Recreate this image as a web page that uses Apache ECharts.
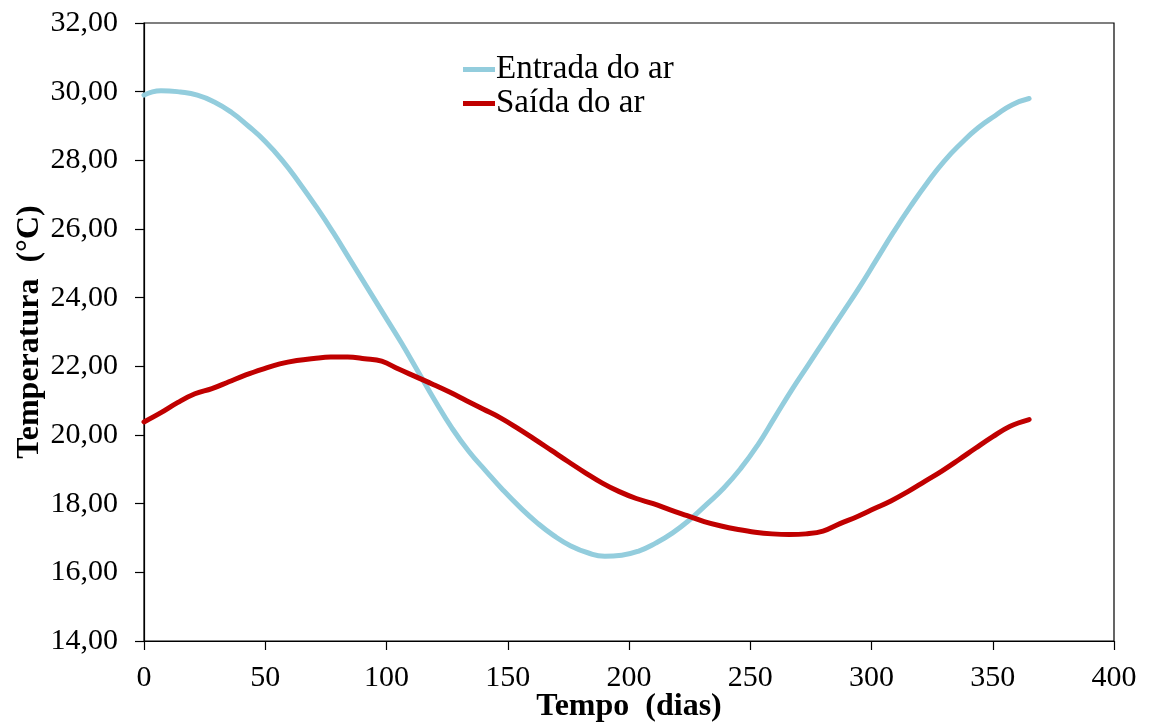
<!DOCTYPE html>
<html>
<head>
<meta charset="utf-8">
<script src="https://cdn.jsdelivr.net/npm/echarts@6/dist/echarts.min.js"></script>
<style>
  html, body { margin: 0; padding: 0; background: #fff; }
  #chart { width: 1149px; height: 722px; }
</style>
</head>
<body>
<div id="chart"></div>
<script>
// Air temperature at the inlet and outlet over one year
const entradaDias = [0, 7, 15, 22, 29, 36, 43, 50, 57, 64, 71, 78, 85, 92, 99, 106, 113, 120, 127, 134, 141, 148, 155, 162, 169, 176, 183, 190, 197, 204, 211, 218, 225, 232, 239, 246, 253, 260, 267, 274, 281, 288, 295, 302, 309, 316, 323, 330, 337, 344, 351, 358, 365];
const entradaTemp = [29.9, 30.03, 29.99, 29.9, 29.7, 29.4, 29.0, 28.55, 28.0, 27.35, 26.65, 25.9, 25.1, 24.3, 23.5, 22.7, 21.85, 21.0, 20.2, 19.52, 18.95, 18.4, 17.9, 17.45, 17.07, 16.77, 16.57, 16.47, 16.5, 16.62, 16.85, 17.15, 17.53, 17.98, 18.45, 19.02, 19.7, 20.5, 21.3, 22.05, 22.8, 23.55, 24.3, 25.1, 25.9, 26.65, 27.35, 27.98, 28.5, 28.95, 29.3, 29.62, 29.8];

const saidaDias = [0, 7, 14, 21, 28, 35, 42, 49, 56, 63, 70, 77, 84, 91, 98, 105, 112, 119, 126, 133, 140, 147, 154, 161, 168, 175, 182, 189, 196, 203, 210, 217, 224, 231, 238, 245, 252, 259, 266, 273, 280, 287, 294, 301, 308, 315, 322, 329, 336, 343, 350, 357, 365];
const saidaTemp = [20.38, 20.65, 20.95, 21.2, 21.35, 21.55, 21.75, 21.92, 22.07, 22.17, 22.23, 22.27, 22.27, 22.22, 22.15, 21.92, 21.7, 21.48, 21.25, 21.0, 20.75, 20.5, 20.2, 19.88, 19.55, 19.22, 18.9, 18.6, 18.35, 18.15, 18.0, 17.82, 17.65, 17.48, 17.35, 17.25, 17.17, 17.12, 17.1, 17.12, 17.2, 17.42, 17.62, 17.85, 18.08, 18.35, 18.65, 18.95, 19.28, 19.62, 19.95, 20.25, 20.45];

const seriesNames = ['Entrada do ar', 'Saída do ar'];
const xTitle = 'Tempo  (dias)';
const yTitle = 'Temperatura  (°C)';

const pairs = (xs, ys) => xs.map((x, i) => [x, ys[i]]);
const serif = '"Liberation Serif", "DejaVu Serif", serif';

const chart = echarts.init(document.getElementById('chart'), null, { renderer: 'canvas' });
chart.setOption({
  animation: false,
  backgroundColor: '#ffffff',
  grid: {
    left: 144, right: 35, top: 23, bottom: 81,
    outerBoundsMode: 'none', containLabel: false,
    show: true, borderColor: '#000', borderWidth: 1.2, backgroundColor: 'transparent'
  },
  legend: {
    orient: 'vertical',
    left: 458, top: 48,
    icon: 'rect',
    itemWidth: 32, itemHeight: 5, itemGap: 1,
    textStyle: { fontFamily: serif, fontSize: 33, color: '#000', padding: [0, 0, 0, -4] },
    data: seriesNames
  },
  xAxis: {
    type: 'value', min: 0, max: 400, interval: 50,
    name: xTitle, nameLocation: 'middle', nameGap: 50, nameMoveOverlap: false,
    nameTextStyle: { fontFamily: serif, fontSize: 32, fontWeight: 'bold', color: '#000' },
    axisLine: { show: true, lineStyle: { color: '#000', width: 1.2 } },
    axisTick: { show: true, inside: false, length: 9, lineStyle: { color: '#000', width: 1.2 } },
    axisLabel: { fontFamily: serif, fontSize: 30, color: '#000', margin: 22 },
    splitLine: { show: false }
  },
  yAxis: {
    type: 'value', min: 14, max: 32, interval: 2,
    name: yTitle, nameLocation: 'middle', nameGap: 98, nameRotate: 90, nameMoveOverlap: false,
    nameTextStyle: { fontFamily: serif, fontSize: 32, fontWeight: 'bold', color: '#000' },
    axisLine: { show: true, lineStyle: { color: '#000', width: 1.2 } },
    axisTick: { show: true, inside: false, length: 9, lineStyle: { color: '#000', width: 1.2 } },
    axisLabel: {
      fontFamily: serif, fontSize: 30, color: '#000', margin: 26,
      formatter: v => v.toFixed(2).replace('.', ',')
    },
    splitLine: { show: false }
  },
  series: [
    {
      name: seriesNames[0], type: 'line', smooth: 0.5, symbol: 'none',
      data: pairs(entradaDias, entradaTemp),
      lineStyle: { color: '#93CDDD', width: 5, cap: 'round' },
      itemStyle: { color: '#93CDDD' }
    },
    {
      name: seriesNames[1], type: 'line', smooth: 0.4, symbol: 'none',
      data: pairs(saidaDias, saidaTemp),
      lineStyle: { color: '#C00000', width: 5, cap: 'round' },
      itemStyle: { color: '#C00000' }
    }
  ]
});
</script>
</body>
</html>
